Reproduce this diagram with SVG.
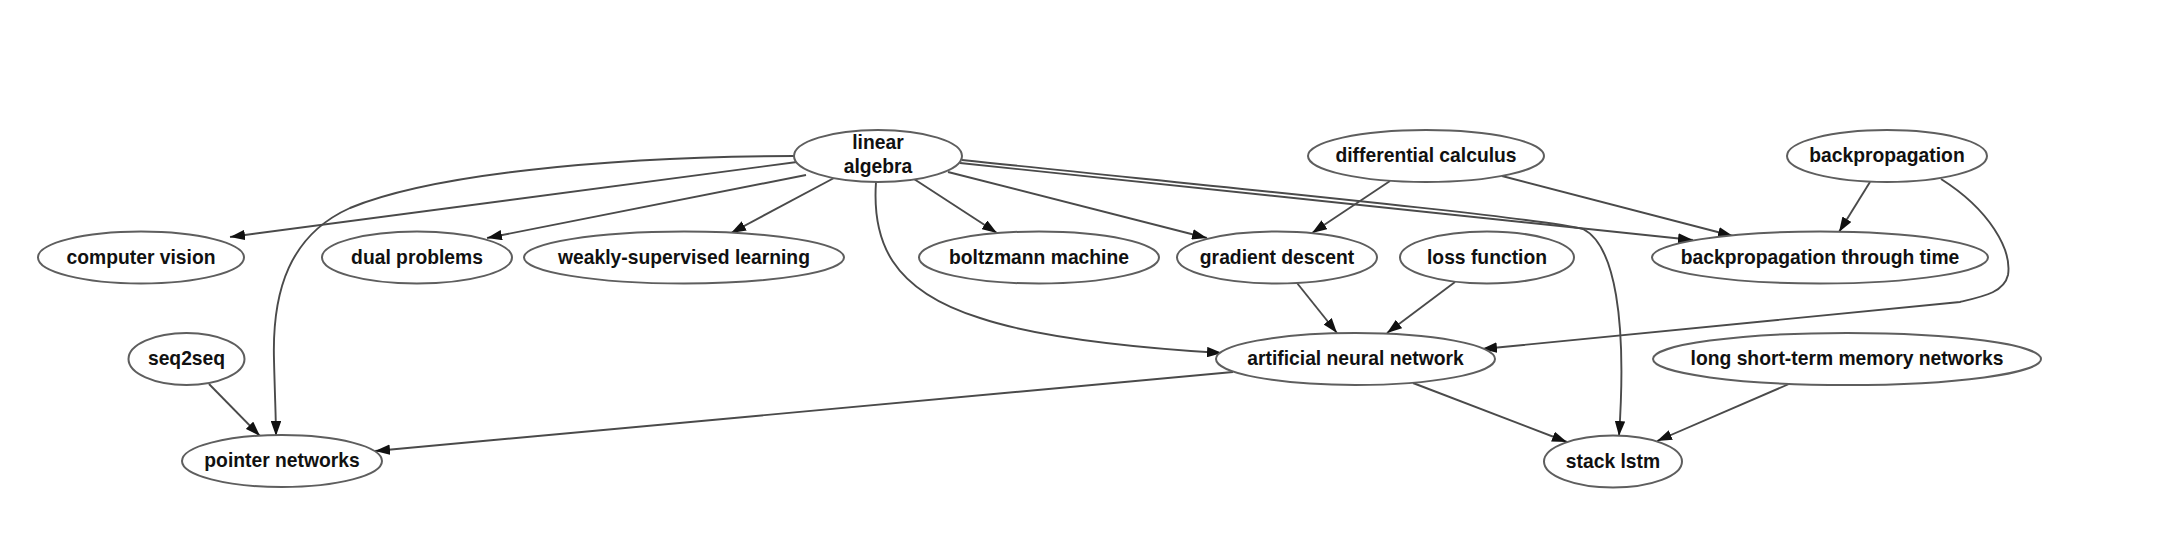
<svg xmlns="http://www.w3.org/2000/svg" width="2180" height="548" viewBox="0 0 2180 548">
<style>
.node ellipse{fill:#fff;stroke:#5e5e5e;stroke-width:2}
.node text{font-family:"Liberation Sans",Arial,Helvetica,sans-serif;font-weight:bold;font-size:19.3px;fill:#111;text-anchor:middle}
.edges path{fill:none;stroke:#4a4a4a;stroke-width:1.9;marker-end:url(#arr)}
</style>
<defs>
<marker id="arr" markerUnits="userSpaceOnUse" markerWidth="15" markerHeight="10.5" refX="15" refY="5.25" orient="auto" viewBox="0 0 15 10.5">
<path d="M0,0 L15,5.25 L0,10.5 z" fill="#111"/>
</marker>
</defs>
<rect width="2180" height="548" fill="#fff"/>
<g class="edges" id="edges">
<path d="M797,162 L230,237"/>
<path d="M806,175 L487,238"/>
<path d="M834,178 L731,233"/>
<path d="M914,179 L997,233"/>
<path d="M948,172 L1207,238"/>
<path d="M960,163 L1693,240"/>
<path d="M962,160 C1250,190 1540,218 1583,229 C1615,245 1627,320 1619,436"/>
<path d="M876,182 C872,240 890,290 980,318 C1040,338 1140,348 1222,353"/>
<path d="M794,156 C600,157 430,175 350,208 C290,235 272,290 274,360 C275,400 276,420 276,436"/>
<path d="M1390,181 L1312,233"/>
<path d="M1502,176 L1733,236"/>
<path d="M1870,182 L1839,232"/>
<path d="M1941,179 C1990,210 2012,250 2008,275 C2004,292 1985,296 1960,302 L1482,349"/>
<path d="M1297,283 L1337,333"/>
<path d="M1455,282 L1387,333"/>
<path d="M209,384 L260,436"/>
<path d="M1233,372 L375,451"/>
<path d="M1413,383 L1567,442"/>
<path d="M1789,384 L1657,441"/>
</g>
<g class="node" id="linear-algebra"><ellipse cx="878" cy="156" rx="84" ry="26"/><text x="878" y="149">linear</text><text x="878" y="172.5">algebra</text></g>
<g class="node" id="differential-calculus"><ellipse cx="1426" cy="156" rx="118" ry="26"/><text x="1426" y="162">differential calculus</text></g>
<g class="node" id="backpropagation"><ellipse cx="1887" cy="156" rx="100" ry="26"/><text x="1887" y="162">backpropagation</text></g>
<g class="node" id="computer-vision"><ellipse cx="141" cy="257.5" rx="103" ry="26"/><text x="141" y="263.5">computer vision</text></g>
<g class="node" id="dual-problems"><ellipse cx="417" cy="257.5" rx="95" ry="26"/><text x="417" y="263.5">dual problems</text></g>
<g class="node" id="weakly-supervised-learning"><ellipse cx="684" cy="257.5" rx="160" ry="26"/><text x="684" y="263.5">weakly-supervised learning</text></g>
<g class="node" id="boltzmann-machine"><ellipse cx="1039" cy="257.5" rx="120" ry="26"/><text x="1039" y="263.5">boltzmann machine</text></g>
<g class="node" id="gradient-descent"><ellipse cx="1277" cy="257.5" rx="100" ry="26"/><text x="1277" y="263.5">gradient descent</text></g>
<g class="node" id="loss-function"><ellipse cx="1487" cy="257.5" rx="87" ry="26"/><text x="1487" y="263.5">loss function</text></g>
<g class="node" id="backpropagation-through-time"><ellipse cx="1820" cy="257.5" rx="168" ry="26"/><text x="1820" y="263.5">backpropagation through time</text></g>
<g class="node" id="seq2seq"><ellipse cx="186.5" cy="359" rx="58" ry="26"/><text x="186.5" y="365">seq2seq</text></g>
<g class="node" id="artificial-neural-network"><ellipse cx="1355.5" cy="359" rx="139.5" ry="26"/><text x="1355.5" y="365">artificial neural network</text></g>
<g class="node" id="long-short-term-memory-networks"><ellipse cx="1847" cy="359" rx="194" ry="26"/><text x="1847" y="365">long short-term memory networks</text></g>
<g class="node" id="pointer-networks"><ellipse cx="282" cy="461" rx="100" ry="26"/><text x="282" y="467">pointer networks</text></g>
<g class="node" id="stack-lstm"><ellipse cx="1613" cy="461.5" rx="69" ry="26"/><text x="1613" y="467.5">stack lstm</text></g>
</svg>
